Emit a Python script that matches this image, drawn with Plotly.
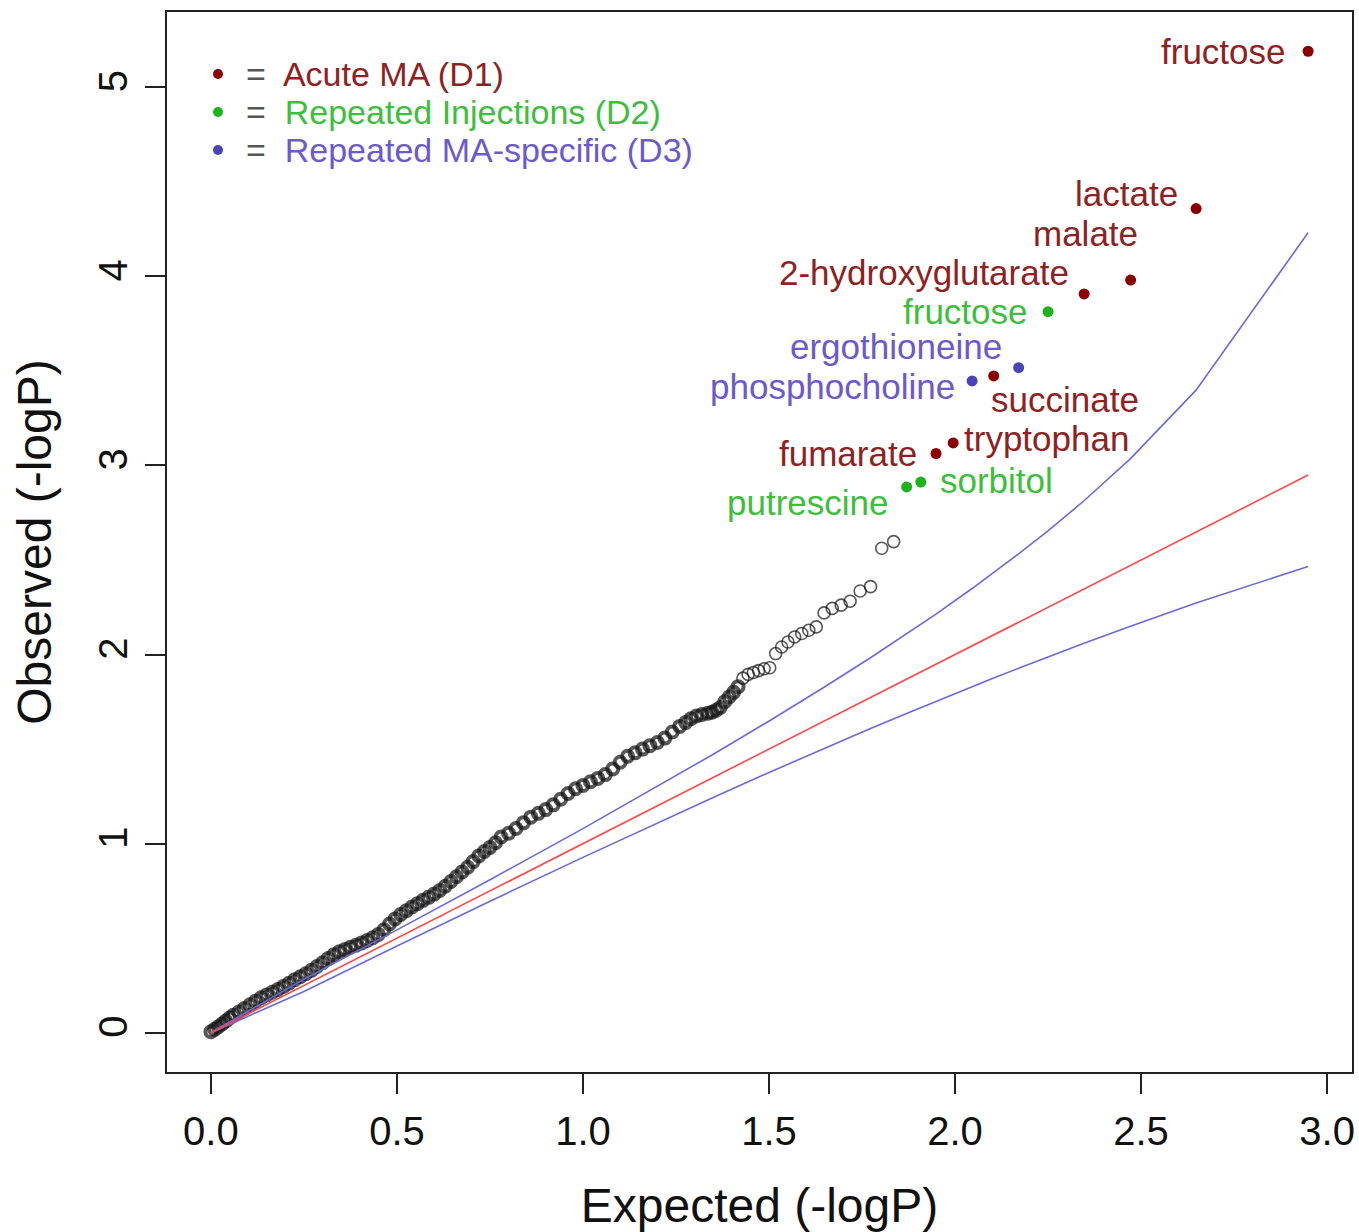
import plotly.graph_objects as go

# ---------------- data ----------------
black_expected = [
    0.000, 0.010, 0.020, 0.030, 0.040, 0.050, 0.060, 0.075, 0.090, 0.105,
    0.120, 0.135, 0.150, 0.165, 0.180, 0.195, 0.210, 0.225, 0.240, 0.255,
    0.270, 0.285, 0.300, 0.315, 0.330, 0.345, 0.360, 0.375, 0.390, 0.405,
    0.420, 0.435, 0.450, 0.465, 0.480, 0.495, 0.510, 0.525, 0.540, 0.555,
    0.570, 0.585, 0.600, 0.615, 0.630, 0.645, 0.660, 0.675, 0.690, 0.705,
    0.720, 0.735, 0.750, 0.765, 0.780, 0.800, 0.820, 0.840, 0.860, 0.880,
    0.900, 0.920, 0.940, 0.960, 0.980, 1.000, 1.020, 1.040, 1.060, 1.080,
    1.100, 1.120, 1.140, 1.160, 1.180, 1.200, 1.220, 1.240, 1.260, 1.276,
    1.290, 1.305, 1.320, 1.336, 1.347, 1.358, 1.369, 1.381, 1.393, 1.405,
    1.417, 1.430, 1.444, 1.458, 1.472, 1.487, 1.502, 1.518, 1.534, 1.551,
    1.569, 1.588, 1.607, 1.627, 1.648, 1.670, 1.694, 1.718, 1.745, 1.773,
    1.803, 1.835,
]
black_observed = [
    0.005, 0.018, 0.032, 0.046, 0.062, 0.078, 0.092, 0.110, 0.128, 0.148,
    0.167, 0.185, 0.200, 0.214, 0.228, 0.245, 0.262, 0.280, 0.296, 0.312,
    0.330, 0.350, 0.370, 0.392, 0.412, 0.428, 0.440, 0.452, 0.463, 0.475,
    0.488, 0.502, 0.520, 0.545, 0.575, 0.602, 0.625, 0.645, 0.665, 0.682,
    0.700, 0.716, 0.733, 0.752, 0.775, 0.800, 0.825, 0.850, 0.875, 0.905,
    0.935, 0.958, 0.980, 1.005, 1.035, 1.055, 1.080, 1.110, 1.140, 1.160,
    1.180, 1.205, 1.235, 1.265, 1.290, 1.308, 1.327, 1.345, 1.365, 1.395,
    1.430, 1.462, 1.480, 1.500, 1.518, 1.535, 1.558, 1.590, 1.620, 1.640,
    1.660, 1.675, 1.683, 1.690, 1.695, 1.705, 1.720, 1.750, 1.775, 1.800,
    1.830, 1.875, 1.895, 1.905, 1.915, 1.925, 1.930, 2.005, 2.040, 2.066,
    2.093, 2.111, 2.128, 2.146, 2.220, 2.244, 2.261, 2.282, 2.336, 2.359,
    2.562, 2.597,
]

hit_names = ["fructose", "lactate", "malate", "2-hydroxyglutarate", "fructose",
             "ergothioneine", "succinate", "phosphocholine", "tryptophan",
             "fumarate", "sorbitol", "putrescine"]
hit_groups = ["D1", "D1", "D1", "D1", "D2", "D3", "D1", "D3", "D1", "D1", "D2", "D2"]
hit_expected = [2.949, 2.648, 2.472, 2.347, 2.250, 2.171, 2.104, 2.046, 1.995, 1.949, 1.908, 1.870]
hit_observed = [5.19, 4.358, 3.98, 3.907, 3.813, 3.517, 3.473, 3.447, 3.119, 3.063, 2.912, 2.886]

ci_expected = [0.0005, 0.2499, 0.5002, 0.7502, 1.0, 1.2007, 1.3469, 1.5017, 1.6479, 1.7728,
               1.8697, 1.9489, 2.0458, 2.1038, 2.1707, 2.2499, 2.3468, 2.4717, 2.6478, 2.9489]
ci_upper = [0.0015, 0.2825, 0.5441, 0.8094, 1.0793, 1.3026, 1.469, 1.650, 1.827, 1.983,
            2.109, 2.214, 2.349, 2.432, 2.532, 2.654, 2.813, 3.036, 3.398, 4.23]
ci_lower = [0.0000, 0.2186, 0.4588, 0.6955, 0.9274, 1.111, 1.2418, 1.378, 1.5038, 1.6087,
            1.6886, 1.7529, 1.8300, 1.8755, 1.9272, 1.9873, 2.0594, 2.150, 2.273, 2.465]

null_expected = [0.0, 2.949]
null_observed = [0.0, 2.949]

group_labels = {"D1": "Acute MA (D1)", "D2": "Repeated Injections (D2)", "D3": "Repeated MA-specific (D3)"}
group_order = ["D1", "D2", "D3"]

x_tickvals = [0.0, 0.5, 1.0, 1.5, 2.0, 2.5, 3.0]
x_ticktext = ["0.0", "0.5", "1.0", "1.5", "2.0", "2.5", "3.0"]
y_tickvals = [0, 1, 2, 3, 4, 5]
y_ticktext = ["0", "1", "2", "3", "4", "5"]

# ---------------- styling ----------------
dot_colors = {"D1": "#8B0000", "D2": "#1DB31D", "D3": "#4A44B8"}
text_colors = {"D1": "#8E2222", "D2": "#3DBE3D", "D3": "#6A5ACD"}
FONT = "Liberation Sans, Arial, Helvetica, sans-serif"

FIG_W, FIG_H = 1359, 1232
M_L, M_R, M_T, M_B = 167, 7, 12, 160

# label placement: (xanchor, xshift px, yshift px)
label_pos = [
    ("right", -20, 0),   # fructose D1
    ("right", -16, 15),  # lactate
    ("right", 9, 47),    # malate
    ("right", -13, 21),  # 2-hydroxyglutarate
    ("right", -18, 0),   # fructose D2
    ("right", -15, 21),  # ergothioneine
    ("left", -5, -24),   # succinate
    ("right", -15, -6),  # phosphocholine
    ("left", 9, 4),      # tryptophan
    ("right", -17, 0),   # fumarate
    ("left", 17, 2),     # sorbitol
    ("right", -17, -16), # putrescine
]

# heavier ring strokes where the points are densely overplotted
ring_widths = [4.0 if x < 1.42 else 1.6 for x in black_expected]
ring_sizes = [11 if x < 1.42 else 12 for x in black_expected]

fig = go.Figure()

fig.add_trace(go.Scatter(
    x=black_expected, y=black_observed, mode="markers",
    marker=dict(symbol="circle-open", size=ring_sizes, color="#111111",
                line=dict(width=ring_widths, color="#111111")),
    hoverinfo="skip"))

fig.add_trace(go.Scatter(x=ci_expected, y=ci_upper, mode="lines",
                         line=dict(color="#6A6ADA", width=1.6), hoverinfo="skip"))
fig.add_trace(go.Scatter(x=ci_expected, y=ci_lower, mode="lines",
                         line=dict(color="#6A6ADA", width=1.6), hoverinfo="skip"))
fig.add_trace(go.Scatter(x=null_expected, y=null_observed, mode="lines",
                         line=dict(color="#FF4848", width=1.6), hoverinfo="skip"))

for g in group_order:
    xs = [x for x, gg in zip(hit_expected, hit_groups) if gg == g]
    ys = [y for y, gg in zip(hit_observed, hit_groups) if gg == g]
    fig.add_trace(go.Scatter(x=xs, y=ys, mode="markers",
                             marker=dict(symbol="circle", size=11, color=dot_colors[g]),
                             hoverinfo="skip"))

annotations = []
for name, g, x, y, (anc, xs, ys) in zip(hit_names, hit_groups, hit_expected, hit_observed, label_pos):
    annotations.append(dict(
        x=x, y=y, xref="x", yref="y", text=name, showarrow=False,
        xanchor=anc, yanchor="middle", xshift=xs, yshift=ys,
        font=dict(family=FONT, size=35, color=text_colors[g])))

# legend (top-left, inside the plot); positions given in window pixels
PLOT_L, PLOT_B = float(M_L), float(FIG_H - M_B)
W = FIG_W - M_L - M_R
H = FIG_H - M_T - M_B
legend_rows_px = [74, 112, 150]
shapes = []
for g, py in zip(group_order, legend_rows_px):
    yp = (PLOT_B - py) / H
    shapes.append(dict(type="circle", xref="paper", yref="paper",
                       xsizemode="pixel", ysizemode="pixel",
                       xanchor=(218 - PLOT_L) / W, yanchor=yp,
                       x0=-5, x1=5, y0=-5, y1=5,
                       fillcolor=dot_colors[g], line=dict(width=0)))
    annotations.append(dict(
        x=(244 - PLOT_L) / W, y=yp, xref="paper", yref="paper", showarrow=False,
        xanchor="left", yanchor="middle",
        text="<span style='color:#555555'>=</span>  " + group_labels[g],
        font=dict(family=FONT, size=34, color=text_colors[g])))

fig.update_layout(
    width=FIG_W, height=FIG_H,
    margin=dict(l=M_L, r=M_R, t=M_T, b=M_B),
    plot_bgcolor="white", paper_bgcolor="white",
    showlegend=False,
    font=dict(family=FONT, color="#111111"),
    annotations=annotations, shapes=shapes,
    xaxis=dict(range=[-0.118, 3.067], tickvals=x_tickvals, ticktext=x_ticktext,
               automargin=False,
               ticks="outside", ticklen=20, tickwidth=2, tickcolor="#222222",
               showline=True, linecolor="#222222", linewidth=2, mirror=True,
               showgrid=False, zeroline=False, ticklabelstandoff=3,
               tickfont=dict(family=FONT, size=40, color="#111111"),
               title=dict(text="Expected (-logP)", standoff=36,
                          font=dict(family=FONT, size=48, color="#111111"))),
    yaxis=dict(range=[-0.2076, 5.3976], tickvals=y_tickvals, ticktext=y_ticktext,
               automargin=False,
               ticks="outside", ticklen=20, tickwidth=2, tickcolor="#222222",
               showline=True, linecolor="#222222", linewidth=2, mirror=True,
               showgrid=False, zeroline=False, tickangle=-90, ticklabelstandoff=2,
               tickfont=dict(family=FONT, size=40, color="#111111"),
               title=dict(text="Observed (-logP)", standoff=24,
                          font=dict(family=FONT, size=48, color="#111111"))),
)

# remove the browser's default page margin so the figure fills the window exactly
fig.write_html(
    "out.html",
    config={"displayModeBar": False},
    post_script=("document.body.style.margin='0';"
                 "document.body.style.overflow='hidden';"
                 "document.documentElement.style.overflow='hidden';"),
)
